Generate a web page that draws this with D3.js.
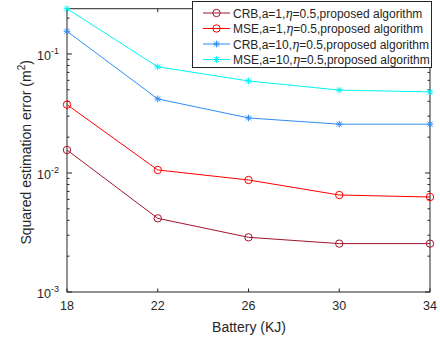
<!DOCTYPE html>
<html>
<head>
<meta charset="utf-8">
<script src="https://cdn.jsdelivr.net/npm/d3@7"></script>
<style>
  body { margin: 0; background: #fff; }
  text { font-family: "Liberation Sans", Arial, sans-serif; fill: #262626; }
</style>
</head>
<body>
<script>
// battery capacity (KJ)
var battery = [18, 22, 26, 30, 34];

// squared estimation error per curve
var crbA1  = [0.0156, 0.00416, 0.00288, 0.00255, 0.00255];
var mseA1  = [0.0375, 0.0106, 0.00873, 0.00653, 0.00628];
var crbA10 = [0.155, 0.0419, 0.029, 0.0257, 0.0257];
var mseA10 = [0.24, 0.078, 0.0593, 0.0497, 0.048];

var seriesNames = [
    ["CRB,a=1,", "=0.5,proposed algorithm"],
    ["MSE,a=1,", "=0.5,proposed algorithm"],
    ["CRB,a=10,", "=0.5,proposed algorithm"],
    ["MSE,a=10,", "=0.5,proposed algorithm"]
];
var seriesValues = [crbA1, mseA1, crbA10, mseA10];
var seriesColors = ["#A2142F", "#FF0000", "#2E8DF5", "#00F5F5"];
var seriesMarkers = ["circle", "circle", "star", "star"];

var xTicks = [18, 22, 26, 30, 34];
var yTicks = [1e-3, 1e-2, 1e-1];
var yTickExp = ["-3", "-2", "-1"];

var w = 440, h = 339;
var pLeft = 67, pRight = 430, pTop = 8.7, pBottom = 292;

var svg = d3.select("body").append("svg")
    .attr("width", w)
    .attr("height", h);

var x = d3.scaleLinear().domain([18, 34]).range([pLeft, pRight]);
var y = d3.scaleLog().domain([1e-3, 0.24]).range([pBottom, pTop]);

// minor ticks on log axis
var minor = [];
[1e-3, 1e-2, 1e-1].forEach(function(d) {
    for (var k = 2; k <= 9; k++) {
        var v = d * k;
        if (v <= 0.24) minor.push(v);
    }
});

var axisColor = "#262626";

// box
svg.append("rect")
    .attr("x", pLeft).attr("y", pTop)
    .attr("width", pRight - pLeft).attr("height", pBottom - pTop)
    .attr("fill", "none").attr("stroke", axisColor).attr("stroke-width", 1);

// x ticks (bottom and top, inward)
xTicks.forEach(function(t) {
    var px = x(t);
    svg.append("line").attr("x1", px).attr("x2", px).attr("y1", pBottom).attr("y2", pBottom - 3.5)
        .attr("stroke", axisColor);
    svg.append("line").attr("x1", px).attr("x2", px).attr("y1", pTop).attr("y2", pTop + 3.5)
        .attr("stroke", axisColor);
    svg.append("text")
        .attr("x", px).attr("y", 309.5)
        .attr("text-anchor", "middle")
        .style("font-size", "12.5px")
        .text(t);
});

// y major ticks
yTicks.forEach(function(t, i) {
    var py = y(t);
    svg.append("line").attr("x1", pLeft).attr("x2", pLeft + 5).attr("y1", py).attr("y2", py)
        .attr("stroke", axisColor);
    svg.append("line").attr("x1", pRight).attr("x2", pRight - 5).attr("y1", py).attr("y2", py)
        .attr("stroke", axisColor);
    var lab = svg.append("text")
        .attr("x", pLeft - 8).attr("y", py + 6)
        .attr("text-anchor", "end")
        .style("font-size", "12.5px");
    lab.append("tspan").text("10");
    lab.append("tspan").attr("dy", -6).style("font-size", "9px").text(yTickExp[i]);
});

// y minor ticks
minor.forEach(function(t) {
    var py = y(t);
    svg.append("line").attr("x1", pLeft).attr("x2", pLeft + 2.5).attr("y1", py).attr("y2", py)
        .attr("stroke", axisColor);
    svg.append("line").attr("x1", pRight).attr("x2", pRight - 2.5).attr("y1", py).attr("y2", py)
        .attr("stroke", axisColor);
});

// axis labels
svg.append("text")
    .attr("x", (pLeft + pRight) / 2 + 0.5).attr("y", 331.5)
    .attr("text-anchor", "middle")
    .style("font-size", "14px")
    .text("Battery (KJ)");

var yl = svg.append("text")
    .attr("transform", "translate(30.5," + ((pTop + pBottom) / 2 + 2) + ") rotate(-90)")
    .attr("text-anchor", "middle")
    .style("font-size", "14px");
yl.append("tspan").text("Squared estimation error (m");
yl.append("tspan").attr("dy", -6).style("font-size", "10px").text("2");
yl.append("tspan").attr("dy", 6).text(")");

function drawMarker(g, type, cx, cy, color) {
    if (type === "circle") {
        g.append("circle").attr("cx", cx).attr("cy", cy).attr("r", 3.7)
            .attr("fill", "none").attr("stroke", color).attr("stroke-width", 1);
    } else {
        var s = 3.3;
        var p = "M" + (cx - s) + "," + cy + "L" + (cx + s) + "," + cy +
            "M" + cx + "," + (cy - s) + "L" + cx + "," + (cy + s) +
            "M" + (cx - s * 0.75) + "," + (cy - s * 0.75) + "L" + (cx + s * 0.75) + "," + (cy + s * 0.75) +
            "M" + (cx - s * 0.75) + "," + (cy + s * 0.75) + "L" + (cx + s * 0.75) + "," + (cy - s * 0.75);
        g.append("path").attr("d", p).attr("stroke", color).attr("stroke-width", 1).attr("fill", "none");
    }
}

var line = d3.line()
    .x(function(d) { return x(d[0]); })
    .y(function(d) { return y(d[1]); });

seriesValues.forEach(function(vals, i) {
    var pts = battery.map(function(b, j) { return [b, vals[j]]; });
    var g = svg.append("g");
    g.append("path")
        .attr("d", line(pts))
        .attr("fill", "none")
        .attr("stroke", seriesColors[i])
        .attr("stroke-width", 1);
    pts.forEach(function(p) {
        drawMarker(g, seriesMarkers[i], x(p[0]), y(p[1]), seriesColors[i]);
    });
});

// legend
var lg = svg.append("g");
lg.append("rect")
    .attr("x", 192.5).attr("y", 1.5)
    .attr("width", 239).attr("height", 66)
    .attr("fill", "#fff").attr("stroke", axisColor).attr("stroke-width", 1);

seriesNames.forEach(function(nm, i) {
    var ry = 13 + i * 15.5;
    lg.append("line").attr("x1", 203).attr("x2", 230).attr("y1", ry).attr("y2", ry)
        .attr("stroke", seriesColors[i]).attr("stroke-width", 1);
    drawMarker(lg, seriesMarkers[i], 216.5, ry, seriesColors[i]);
    var t = lg.append("text")
        .attr("x", 233).attr("y", ry + 4.5)
        .style("font-size", "12px");
    t.append("tspan").text(nm[0]);
    t.append("tspan").style("font-family", "'DejaVu Serif', 'Liberation Serif', serif")
        .style("font-style", "italic").text("η");
    t.append("tspan").text(nm[1]);
});
</script>
</body>
</html>
